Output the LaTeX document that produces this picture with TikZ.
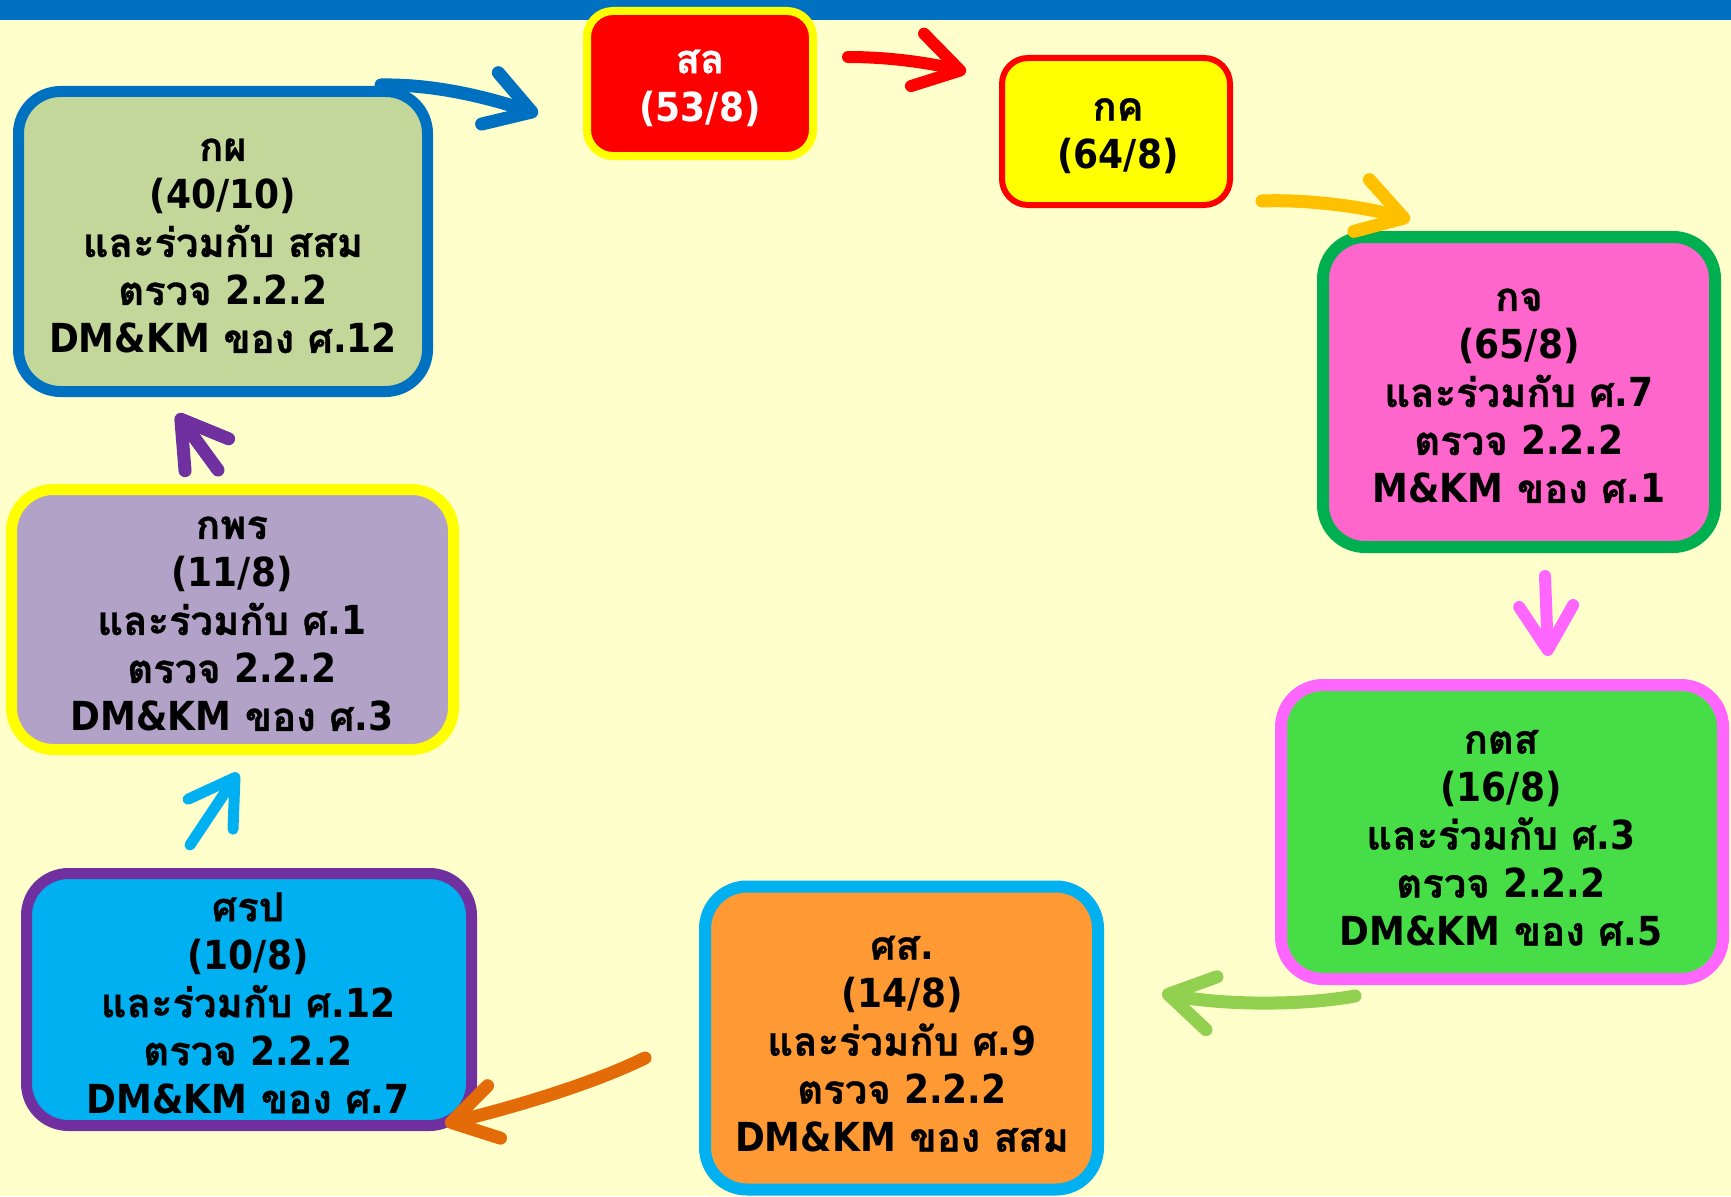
\documentclass[tikz,border=0pt]{standalone}
\usepackage{fontspec}
\newfontfamily\thai[Script=Thai, BoldFeatures={FakeBold=0.8}]{Loma}
\newfontfamily\enfont[FakeStretch=0.9]{DejaVu Sans}
\newcommand{\en}[1]{{\enfont\bfseries #1}}
\usetikzlibrary{arrows.meta}
\definecolor{bg}{HTML}{FFFFCC}
\definecolor{barblue}{HTML}{0070C0}
\definecolor{kpfill}{HTML}{C4D79B}
\definecolor{kjfill}{HTML}{FF66CC}
\definecolor{kjline}{HTML}{00B050}
\definecolor{ktsfill}{HTML}{47DD47}
\definecolor{ktsline}{HTML}{FF66FF}
\definecolor{ssfill}{HTML}{FF9933}
\definecolor{cyanc}{HTML}{00B0F0}
\definecolor{purplec}{HTML}{7030A0}
\definecolor{lavfill}{HTML}{B3A2C7}
\definecolor{yellowc}{HTML}{FFFF00}
\definecolor{redc}{HTML}{FF0000}
\definecolor{goldc}{HTML}{FFC000}
\definecolor{lgreen}{HTML}{92D050}
\definecolor{orangec}{HTML}{E36C09}
\tikzset{
  box/.style={draw, rounded corners=42pt, inner sep=0pt},
  smallbox/.style={box, rounded corners=26pt},
  txt/.style={align=center, inner sep=0pt,
    font=\thai\bfseries\fontsize{40}{48}\selectfont},
  arr/.style={line width=13pt, line cap=round,
    -{Straight Barb[length=44pt, width=54pt, round]}},
}
\begin{document}
\begin{tikzpicture}[x=1pt,y=-1pt]
\useasboundingbox (0,0) rectangle (1731,1196);
\fill[bg] (0,0) rectangle (1731,1196);
\fill[barblue] (0,0) rectangle (1731,20);

% boxes
\node[box, line width=11pt, draw=barblue, fill=kpfill,
  minimum width=409pt, minimum height=300pt] (kp) at (223,241.5) {};
\node[smallbox, line width=8pt, draw=yellowc, fill=redc,
  minimum width=226pt, minimum height=145pt] (sl) at (700,83.5) {};
\node[smallbox, line width=6pt, draw=redc, fill=yellowc,
  minimum width=228pt, minimum height=147pt] (kk) at (1116,131.5) {};
\node[box, line width=12pt, draw=kjline, fill=kjfill,
  minimum width=392pt, minimum height=310pt] (kj) at (1519,392) {};
\node[box, line width=12pt, draw=ktsline, fill=ktsfill,
  minimum width=442pt, minimum height=294pt] (kts) at (1502,832) {};
\node[box, line width=12pt, draw=cyanc, fill=ssfill,
  minimum width=393pt, minimum height=303pt] (ss) at (901.5,1038) {};
\node[box, line width=11pt, draw=purplec, fill=cyanc,
  minimum width=445pt, minimum height=252pt] (srp) at (249,999.5) {};
\node[box, line width=11pt, draw=yellowc, fill=lavfill,
  minimum width=442pt, minimum height=260pt] (kpr) at (232.5,619.5) {};

% texts
\node[txt] (kpt) at (223,246)
  {กผ\\\en{(40/10)}\\และร่วมกับ สสม\\ตรวจ \en{2.2.2}\\\en{DM\&KM} ของ ศ\en{.12}};
\node[txt, text=white] (slt) at (700,88) {สล\\\en{(53/8)}};
\node[txt] (kkt) at (1118,136) {กค\\\en{(64/8)}};
\node[txt] (kjt) at (1519,396)
  {กจ\\\en{(65/8)}\\และร่วมกับ ศ\en{.7}\\ตรวจ \en{2.2.2}\\\en{M\&KM} ของ ศ\en{.1}};
\node[txt] (ktst) at (1501,838)
  {กตส\\\en{(16/8)}\\และร่วมกับ ศ\en{.3}\\ตรวจ \en{2.2.2}\\\en{DM\&KM} ของ ศ\en{.5}};
\node[txt] (sst) at (902,1044)
  {ศส\en{.}\\\en{(14/8)}\\และร่วมกับ ศ\en{.9}\\ตรวจ \en{2.2.2}\\\en{DM\&KM} ของ สสม};
\node[txt] (srpt) at (248,1003)
  {ศรป\\\en{(10/8)}\\และร่วมกับ ศ\en{.12}\\ตรวจ \en{2.2.2}\\\en{DM\&KM} ของ ศ\en{.7}};
\node[txt] (kprt) at (232,624)
  {กพร\\\en{(11/8)}\\และร่วมกับ ศ\en{.1}\\ตรวจ \en{2.2.2}\\\en{DM\&KM} ของ ศ\en{.3}};

% arrow end points
\coordinate (a1s) at (381,85);   \coordinate (a1e) at (538,114);
\coordinate (a2s) at (848,57);   \coordinate (a2e) at (966,72);
\coordinate (a3s) at (1262,201); \coordinate (a3e) at (1410,220);
\coordinate (a4s) at (1545,576); \coordinate (a4e) at (1548,656);
\coordinate (a5s) at (1355,996); \coordinate (a5e) at (1162,993);
\coordinate (a6s) at (645,1058); \coordinate (a6e) at (445,1124);
\coordinate (a7s) at (190,845);  \coordinate (a7e) at (238,773);
\coordinate (a8s) at (218,470);  \coordinate (a8e) at (177,414);

% arrows
\draw[arr, barblue] (a1s) .. controls (440,84) and (495,100) .. (a1e);
\draw[arr, redc, line width=12pt] (a2s) .. controls (890,57) and (930,63) .. (a2e);
\draw[arr, goldc] (a3s) .. controls (1310,199) and (1370,208) .. (a3e);
\draw[arr, ktsline, line width=12pt] (a4s) -- (a4e);
\draw[arr, lgreen] (a5s) .. controls (1300,1006) and (1220,1005) .. (a5e);
\draw[arr, orangec] (a6s) .. controls (590,1085) and (510,1108) .. (a6e);
\draw[arr, cyanc, line width=11pt] (a7s) -- (a7e);
\draw[arr, purplec] (a8s) -- (a8e);
\end{tikzpicture}
\end{document}
